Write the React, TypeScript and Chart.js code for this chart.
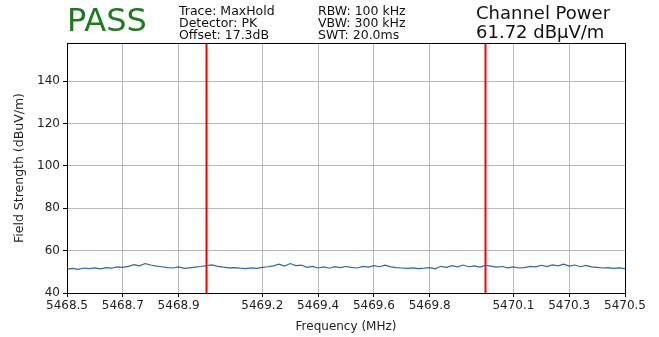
import React, { useEffect, useRef } from "react";
import { Chart, registerables } from "chart.js";

Chart.register(...registerables);

const freqStart = 5468.5;
const freqStep = 0.02;
const traceValues = [
  51.3, 51.6, 51.2, 51.8, 51.5, 51.9, 51.4, 52.0, 51.7, 52.3,
  52.1, 52.6, 53.4, 52.8, 53.9, 53.2, 52.7, 52.4, 52.0, 51.8,
  52.3, 51.6, 51.9, 52.2, 52.5, 52.9, 53.3, 52.6, 52.2, 51.9,
  52.0, 51.7, 51.5, 51.9, 51.6, 52.1, 52.4, 52.8, 53.6, 52.7,
  53.9, 52.9, 53.2, 52.1, 52.6, 51.8, 52.3, 51.7, 52.4, 52.0,
  52.5, 52.1, 51.8, 52.6, 52.2, 52.9, 52.4, 53.1, 52.3, 52.0,
  51.8, 51.6, 51.9, 51.5, 51.7, 52.0, 51.4, 52.6, 52.1, 52.9,
  52.3, 53.2, 52.4, 52.8, 52.2, 53.0, 52.7, 52.2, 52.5, 51.9,
  52.3, 51.8, 52.0, 52.6, 52.3, 53.1, 52.5, 53.3, 52.8, 53.6,
  52.7, 53.2, 52.4, 53.0, 52.3, 52.1, 51.8, 52.0, 51.6, 51.9,
  51.5,
];
const channelEdges = [5469.0, 5470.0];
const xTickValues = [5468.5, 5468.7, 5468.9, 5469.2, 5469.4, 5469.6, 5469.8, 5470.1, 5470.3, 5470.5];
const yTickValues = [40, 60, 80, 100, 120, 140];
const xMin = 5468.5;
const xMax = 5470.5;
const yMin = 40;
const yMax = 158;

const infoCol1 = ["Trace: MaxHold", "Detector: PK", "Offset: 17.3dB"];
const infoCol2 = ["RBW: 100 kHz", "VBW: 300 kHz", "SWT: 20.0ms"];
const verdict = "PASS";
const powerTitle = "Channel Power";
const powerValue = "61.72 dBμV/m";

const FONT = "'DejaVu Sans', sans-serif";

const boxPlugin = {
  id: "boxPlugin",
  afterDraw(chart: any) {
    const { ctx, chartArea } = chart;
    ctx.save();
    ctx.strokeStyle = "#000";
    ctx.lineWidth = 1;
    ctx.strokeRect(
      Math.round(chartArea.left) + 0.5,
      Math.round(chartArea.top) + 0.5,
      Math.round(chartArea.right - chartArea.left),
      Math.round(chartArea.bottom - chartArea.top)
    );
    ctx.restore();
  },
};

export default function App() {
  const canvasRef = useRef<HTMLCanvasElement | null>(null);

  useEffect(() => {
    if (!canvasRef.current) return;
    const traceData = traceValues.map((v, i) => ({ x: freqStart + i * freqStep, y: v }));
    const edgeSets = channelEdges.map((f) => ({
      type: "line" as const,
      data: [
        { x: f, y: yMin },
        { x: f, y: yMax },
      ],
      borderColor: "#ff0000",
      borderWidth: 2,
      pointRadius: 0,
    }));
    const chart = new Chart(canvasRef.current, {
      type: "line",
      data: {
        datasets: [
          {
            data: traceData,
            borderColor: "#2a6aa0",
            borderWidth: 1.2,
            pointRadius: 0,
            tension: 0,
          },
          ...edgeSets,
        ],
      },
      options: {
        responsive: false,
        animation: false,
        layout: { padding: { left: 0, right: 34, top: 43, bottom: 0 } },
        plugins: { legend: { display: false }, tooltip: { enabled: false } },
        scales: {
          x: {
            type: "linear",
            min: xMin,
            max: xMax,
            afterBuildTicks: (s: any) => {
              s.ticks = xTickValues.map((v) => ({ value: v }));
            },
            afterFit: (s: any) => {
              s.height = 44;
            },
            ticks: {
              autoSkip: false,
              maxRotation: 0,
              color: "#222",
              font: { family: FONT, size: 12 },
              padding: 2,
              callback: (v: any) => Number(v).toFixed(1),
            },
            grid: { color: "#b8b8b8", lineWidth: 1, tickLength: 4, tickColor: "#000" },
            border: { display: true, color: "#000" },
            title: {
              display: true,
              text: "Frequency (MHz)",
              color: "#222",
              font: { family: FONT, size: 12 },
              padding: { top: 0, bottom: 3 },
            },
          },
          y: {
            type: "linear",
            min: yMin,
            max: yMax,
            afterBuildTicks: (s: any) => {
              s.ticks = yTickValues.map((v) => ({ value: v }));
            },
            afterFit: (s: any) => {
              s.width = 67;
            },
            ticks: {
              color: "#222",
              font: { family: FONT, size: 12 },
              padding: 3,
            },
            grid: { color: "#b8b8b8", lineWidth: 1, tickLength: 4, tickColor: "#000" },
            border: { display: true, color: "#000" },
            title: {
              display: true,
              text: "Field Strength (dBuV/m)",
              color: "#222",
              font: { family: FONT, size: 12.5 },
              padding: { top: 12, bottom: 0 },
            },
          },
        },
      },
      plugins: [boxPlugin],
    });
    return () => chart.destroy();
  }, []);

  const lineStyle: React.CSSProperties = { fontFamily: FONT, fontSize: 12.5, lineHeight: "12px", color: "#111", whiteSpace: "nowrap" };

  return (
    <div style={{ position: "fixed", left: 0, top: 0, width: 659, height: 337, background: "#fff" }}>
      <canvas ref={canvasRef} width={659} height={337} style={{ position: "absolute", left: 0, top: 0 }} />
      <div style={{ position: "absolute", left: 67, top: 1, fontFamily: FONT, fontSize: 32, color: "#1c7c1c", lineHeight: "38px" }}>
        {verdict}
      </div>
      <div style={{ position: "absolute", left: 179, top: 5 }}>
        {infoCol1.map((t) => (
          <div key={t} style={lineStyle}>{t}</div>
        ))}
      </div>
      <div style={{ position: "absolute", left: 318, top: 5 }}>
        {infoCol2.map((t) => (
          <div key={t} style={lineStyle}>{t}</div>
        ))}
      </div>
      <div style={{ position: "absolute", left: 476, top: 3, fontFamily: FONT, fontSize: 18, lineHeight: "19px", color: "#111", whiteSpace: "nowrap" }}>
        <div>{powerTitle}</div>
        <div>{powerValue}</div>
      </div>
    </div>
  );
}
